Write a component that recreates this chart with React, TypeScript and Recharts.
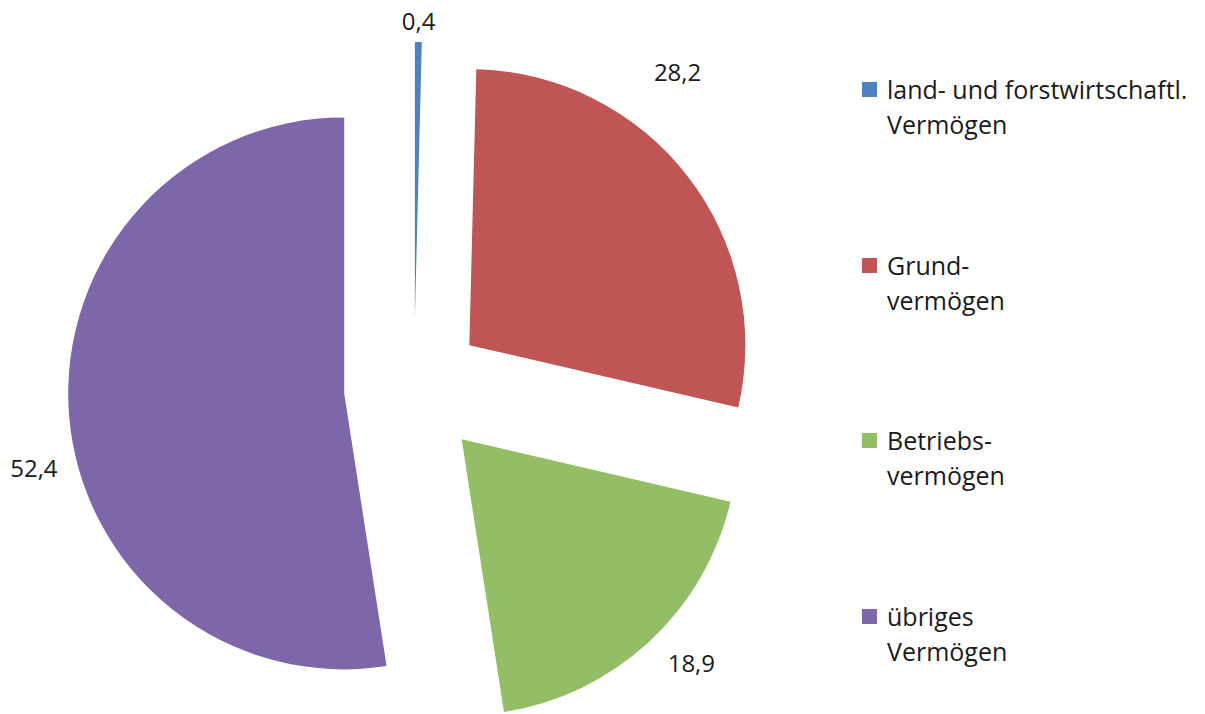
import React from 'react';
import { PieChart, Pie, Cell, Legend } from 'recharts';

const categories = ['land- und forstwirtschaftl. Vermögen', 'Grundvermögen', 'Betriebsvermögen', 'übriges Vermögen'];
const legendLines = [
  ['land- und forstwirtschaftl.', 'Vermögen'],
  ['Grund-', 'vermögen'],
  ['Betriebs-', 'vermögen'],
  ['übriges', 'Vermögen'],
];
const values = [0.4, 28.2, 18.9, 52.4];
const colors = ['#4E81C0', '#BF5655', '#93BE66', '#7E67A8'];

// styling: label placement tweaks (extra radius, clockwise angle shift in degrees)
const labelExtraRadius = [22, 68, 44, 43];
const labelAngleShift = [0, -15, -3, -9];

const CENTER_X = 414;
const CENTER_Y = 388;
const EXPLODE = 70;
const RADIUS = 276;
const FONT = '"Open Sans", Lato, sans-serif';

const rows = categories.map((name, i) => ({ name, value: values[i] }));
const total = values.reduce((a, b) => a + b, 0);

const fmt = (v: number) => v.toFixed(1).replace('.', ',');

const LegendContent = () => (
  <div style={{ fontFamily: FONT, fontSize: 25, color: '#1a1a1a' }}>
    {legendLines.map((lines, i) => (
      <div key={i} style={{ position: 'relative', height: 175.5 }}>
        <div
          style={{
            position: 'absolute',
            left: 0,
            top: 11,
            width: 15,
            height: 15,
            background: colors[i],
          }}
        />
        {lines.map((l, k) => (
          <div key={k} style={{ position: 'absolute', left: 25, top: k * 35, lineHeight: '36px', whiteSpace: 'nowrap' }}>
            {l}
          </div>
        ))}
      </div>
    ))}
  </div>
);

export default function App() {
  let cum = 0;
  const pies = values.map((v, i) => {
    const midFrac = (cum + v / 2) / total;
    cum += v;
    const theta = (midFrac * 360 * Math.PI) / 180;
    const dx = Math.sin(theta) * EXPLODE;
    const dy = -Math.cos(theta) * EXPLODE;
    const renderLabel = (p: any) => {
      if (p.index !== i) return null;
      const ang = ((p.midAngle - labelAngleShift[i]) * Math.PI) / 180;
      const r = p.outerRadius + labelExtraRadius[i];
      const x = p.cx + r * Math.cos(ang);
      const y = p.cy - r * Math.sin(ang);
      return (
        <text
          key={`lbl-${i}`}
          x={x}
          y={y}
          textAnchor="middle"
          dominantBaseline="central"
          fill="#1a1a1a"
          fontSize={24}
          fontFamily={FONT}
        >
          {fmt(values[i])}
        </text>
      );
    };
    return (
      <Pie
        key={i}
        data={rows}
        dataKey="value"
        nameKey="name"
        cx={CENTER_X + dx}
        cy={CENTER_Y + dy}
        outerRadius={RADIUS}
        startAngle={90}
        endAngle={-270}
        stroke="none"
        isAnimationActive={false}
        label={renderLabel}
        labelLine={false}
      >
        {rows.map((_, j) => (
          <Cell key={j} fill={j === i ? colors[i] : 'transparent'} stroke="none" />
        ))}
      </Pie>
    );
  });

  return (
    <div style={{ position: 'absolute', left: 0, top: 0, width: 1205, height: 714, background: '#fff' }}>
      <PieChart width={1205} height={714} margin={{ top: 0, right: 0, bottom: 0, left: 0 }}>
        {pies}
        <Legend
          layout="vertical"
          align="right"
          verticalAlign="top"
          content={LegendContent}
          wrapperStyle={{ left: 862, top: 71, width: 340, right: 'auto' }}
        />
      </PieChart>
    </div>
  );
}
